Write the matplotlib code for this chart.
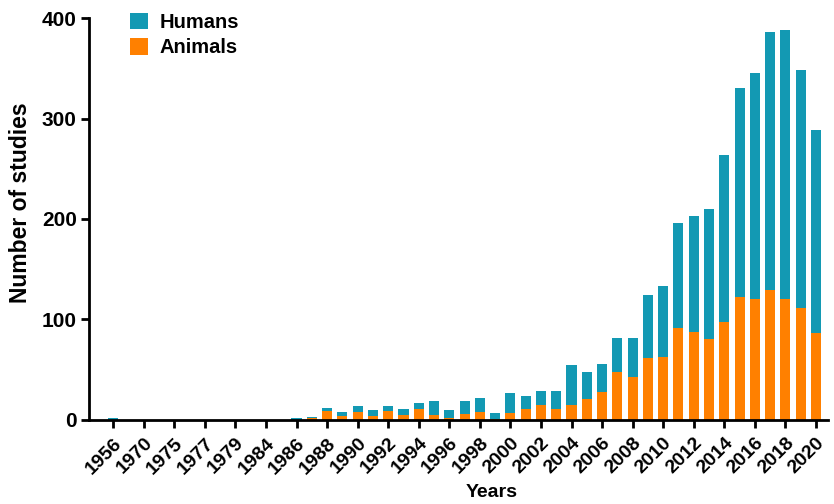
import numpy as np
import matplotlib
matplotlib.use("Agg")
import matplotlib.pyplot as plt

plt.rcParams['font.family'] = ['Liberation Sans', 'DejaVu Sans']
plt.rcParams['font.weight'] = 'bold'

# Kategorien (jede zweite Kategorie bekommt eine Beschriftung)
years = ["1956", "", "1970", "", "1975", "", "1977", "", "1979", "", "1984", "",
         "1986", "1987", "1988", "1989", "1990", "1991", "1992", "1993", "1994",
         "1995", "1996", "1997", "1998", "1999", "2000", "2001", "2002", "2003",
         "2004", "2005", "2006", "2007", "2008", "2009", "2010", "2011", "2012",
         "2013", "2014", "2015", "2016", "2017", "2018", "2019", "2020"]

# Gesamtzahl Studien pro Jahr und davon Tierstudien
total = [1.5, 0, 0, 0, 0, 0, 0, 0, 0, 0, 0, 0,
         1.5, 3, 12, 8, 14, 10, 14, 11, 17,
         19, 10, 19, 22, 7, 27, 24, 29, 29,
         55, 48, 56, 81, 81, 124, 133, 196, 203,
         210, 264, 330, 345, 386, 388, 348, 289]
animals = [0, 0, 0, 0, 0, 0, 0, 0, 0, 0, 0, 0,
           0, 2, 9, 4, 8, 4, 9, 5, 11,
           5, 2, 6, 8, 1, 7, 11, 15, 11,
           15, 21, 28, 48, 43, 62, 63, 91, 87,
           80, 97, 122, 120, 129, 120, 111, 86]

total = np.array(total)
animals = np.array(animals)
humans = total - animals

col_hum = '#1399b3'
col_ani = '#ff8000'

fig = plt.figure(figsize=(8.34, 5.04), dpi=100)
ax = fig.add_axes([0.107, 0.167, 0.886, 0.797])

x = np.arange(len(years))
ax.bar(x, animals, width=0.66, color=col_ani, label='Animals')
ax.bar(x, humans, width=0.66, bottom=animals, color=col_hum, label='Humans')

ax.set_xlim(-1.57, len(years) - 0.2)
ax.set_ylim(0, 400)
ax.set_yticks([0, 100, 200, 300, 400])

ticks = x[::2]
ax.set_xticks(ticks)
ax.set_xticklabels([years[i] for i in ticks], rotation=45, ha='right',
                   va='center', rotation_mode='anchor', fontsize=14,
                   fontweight='bold')
for lab in ax.get_yticklabels():
    lab.set_fontsize(15)
    lab.set_fontweight('bold')

ax.spines['top'].set_visible(False)
ax.spines['right'].set_visible(False)
ax.spines['left'].set_linewidth(2)
ax.spines['bottom'].set_linewidth(2)
ax.tick_params(axis='both', direction='out', length=6, width=2)
ax.tick_params(axis='y', pad=3)
ax.tick_params(axis='x', pad=9)
for lab in ax.get_xticklabels():
    lab.set_transform(lab.get_transform() + matplotlib.transforms.ScaledTranslation(6/100, 0, fig.dpi_scale_trans))

ax.set_ylabel('Number of studies', fontsize=16.5, fontweight='bold')
ax.yaxis.set_label_coords(-0.078, 0.54)
ax.set_xlabel('Years', fontsize=14, fontweight='bold', va='center')
ax.xaxis.set_label_coords(0.545, -0.18)

h, l = ax.get_legend_handles_labels()
ax.legend(h[::-1], l[::-1], loc='upper left', bbox_to_anchor=(0.156, 0.975),
          bbox_transform=fig.transFigure, frameon=False, fontsize=14.5,
          handlelength=0.9, handleheight=0.9, handletextpad=0.55,
          labelspacing=0.3, borderaxespad=0, borderpad=0)

fig.savefig('out.png', dpi=100)
